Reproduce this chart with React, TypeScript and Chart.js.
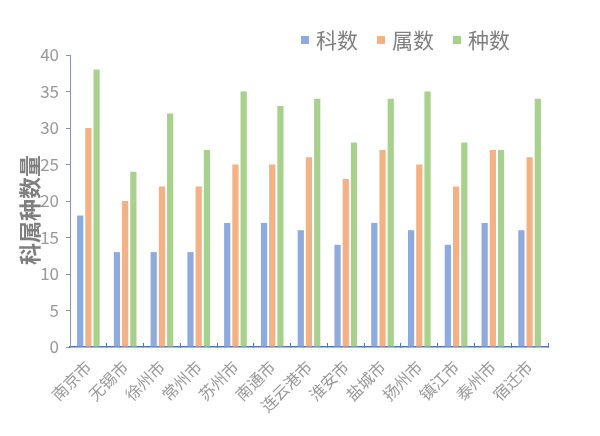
import React, { useEffect, useRef } from "react";
import { Chart, registerables } from "chart.js";

Chart.register(...registerables);

const cities = ["南京市", "无锡市", "徐州市", "常州市", "苏州市", "南通市", "连云港市", "淮安市", "盐城市", "扬州市", "镇江市", "泰州市", "宿迁市"];
const familyCounts = [18, 13, 13, 13, 17, 17, 16, 14, 17, 16, 14, 17, 16];
const genusCounts = [30, 20, 22, 22, 25, 25, 26, 23, 27, 25, 22, 27, 26];
const speciesCounts = [38, 24, 32, 27, 35, 33, 34, 28, 34, 35, 28, 27, 34];
const seriesNames = ["科数", "属数", "种数"];
const yMin = 0;
const yMax = 40;
const yStep = 5;
const yTitle = "科属种数量";

const FONT = '"Noto Sans CJK SC", "Noto Sans", sans-serif';

const legendPlugin = {
  id: "customLegend",
  afterDraw(chart: any) {
    const ctx = chart.ctx;
    ctx.save();
    ctx.font = `21px ${FONT}`;
    ctx.textBaseline = "middle";
    let x = 301;
    const y = 40;
    chart.data.datasets.forEach((ds: any) => {
      ctx.fillStyle = ds.backgroundColor;
      ctx.fillRect(x, y - 4, 8, 8);
      ctx.fillStyle = "#7f7f7f";
      ctx.fillText(ds.label, x + 15, y);
      x += 15 + ctx.measureText(ds.label).width + 19;
    });
    ctx.restore();
  },
};

const yTitlePlugin = {
  id: "yTitle",
  afterDraw(chart: any) {
    const ctx = chart.ctx;
    const area = chart.chartArea;
    ctx.save();
    ctx.translate(30, (area.top + area.bottom) / 2 + 9);
    ctx.rotate(-Math.PI / 2);
    ctx.font = `bold 22px ${FONT}`;
    ctx.fillStyle = "#7f7f7f";
    ctx.textAlign = "center";
    ctx.textBaseline = "middle";
    ctx.fillText(yTitle, 0, 0);
    ctx.restore();
  },
};

export default function App() {
  const ref = useRef<HTMLCanvasElement>(null);
  useEffect(() => {
    if (!ref.current) return;
    const chart = new Chart(ref.current, {
      type: "bar",
      data: {
        labels: cities,
        datasets: [
          { label: seriesNames[0], data: familyCounts, backgroundColor: "#8FAADC" },
          { label: seriesNames[1], data: genusCounts, backgroundColor: "#F4B183" },
          { label: seriesNames[2], data: speciesCounts, backgroundColor: "#A9D18E" },
        ],
      },
      options: {
        responsive: false,
        animation: false,
        devicePixelRatio: 1,
        layout: { padding: { top: 55, right: 52, bottom: 0, left: 16 } },
        datasets: { bar: { categoryPercentage: 0.67, barPercentage: 0.76 } },
        plugins: { legend: { display: false }, tooltip: { enabled: false } },
        scales: {
          x: {
            grid: { display: true, drawOnChartArea: false, drawTicks: true, tickLength: -4, color: "#4f76b5", lineWidth: 1 },
            border: { display: true, color: "#4f76b5", width: 1.5 },
            ticks: {
              color: "#999999",
              font: { family: FONT, size: 16 },
              maxRotation: 45,
              minRotation: 45,
              autoSkip: false,
              padding: 14,
            },
            afterFit: (s: any) => {
              s.height = 89;
            },
          },
          y: {
            min: yMin,
            max: yMax,
            grid: { display: true, drawOnChartArea: false, drawTicks: true, tickLength: 4, color: "#8497b0" },
            border: { display: true, color: "#8497b0", width: 1 },
            ticks: {
              stepSize: yStep,
              color: "#999999",
              font: { family: FONT, size: 17 },
              padding: 7,
            },
            title: { display: false, text: yTitle },
            afterFit: (s: any) => {
              s.width = 54;
            },
          },
        },
      },
      plugins: [legendPlugin, yTitlePlugin],
    });
    return () => chart.destroy();
  }, []);
  return (
    <div style={{ position: "absolute", left: 0, top: 0, width: 600, height: 436, background: "#fff" }}>
      <canvas ref={ref} width={600} height={436} />
    </div>
  );
}
